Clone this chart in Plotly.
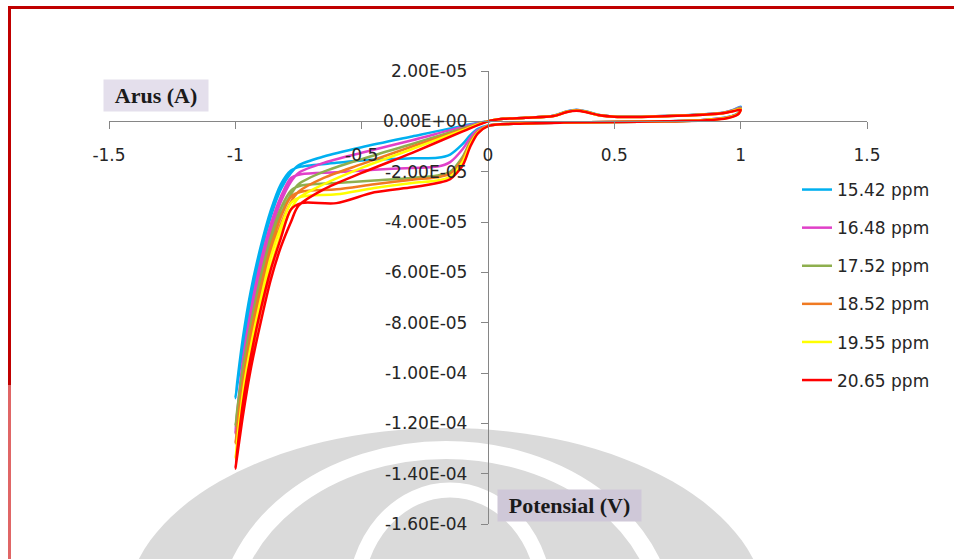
import plotly.graph_objects as go

# ---------------- data (current in microampere, potential in volt) ----------------
series_labels = ["15.42 ppm", "16.48 ppm", "17.52 ppm", "18.52 ppm", "19.55 ppm", "20.65 ppm"]
series_colors = ["#00B0F0", "#E040C8", "#8EAF4E", "#F07A22", "#FFFF00", "#FF0000"]

# forward sweep 0 -> -0.75 V
v_fwd = [0.0, -0.1, -0.3, -0.5, -0.65, -0.75]
i_fwd = [
    [0, -1.8, -6.0, -10.3, -14.0, -17.5],
    [0, -2.2, -7.5, -12.5, -16.5, -20.5],
    [0, -2.8, -9.0, -15.0, -20.0, -25.0],
    [0, -3.2, -10.0, -17.0, -22.5, -28.0],
    [0, -3.5, -11.0, -18.5, -25.0, -30.5],
    [0, -4.0, -12.5, -20.5, -27.0, -33.5],
]

# steep cathodic part -0.78 -> -1.0 V
v_steep = [-0.78, -0.82, -0.86, -0.90, -0.94, -0.97, -1.0]
i_steep = [
    [-20.5, -27, -38, -53, -72, -90, -110],
    [-24, -32, -44, -60, -80, -100, -124],
    [-29, -37, -49, -66, -86, -103, -121],
    [-32, -41, -53, -70, -90, -108, -128],
    [-35, -45, -58, -75, -95, -113, -134],
    [-40, -50, -63, -80, -99, -117, -138],
]

# return of the steep part -0.97 -> -0.78 V
v_ret = [-0.97, -0.94, -0.90, -0.86, -0.82, -0.78]
i_ret = [
    [-86, -68, -50, -35.5, -25, -19.5],
    [-95, -76, -56, -41, -30, -22.5],
    [-98, -81, -62, -46, -34.5, -27.5],
    [-103, -85, -66, -50, -38, -30],
    [-108, -90, -71, -54, -42, -32.5],
    [-112, -94, -75, -59, -46.5, -35],
]

# return plateau -0.74 -> 0 V
v_plat = [-0.74, -0.6, -0.45, -0.3, -0.2, -0.15, -0.1, -0.07, -0.04, 0.0]
i_plat = [
    [-18.0, -16.5, -15.2, -14.7, -14.5, -13.2, -9.0, -5.5, -3.0, -1.6],
    [-21.0, -20.2, -19.2, -18.5, -18.0, -16.2, -11.0, -6.5, -3.5, -1.7],
    [-25.5, -24.5, -23.5, -22.5, -21.5, -20.0, -14.0, -8.0, -4.0, -1.8],
    [-28.0, -27.0, -25.0, -23.2, -22.2, -20.8, -15.0, -8.5, -4.2, -1.8],
    [-30.0, -29.0, -26.5, -24.5, -23.5, -22.0, -16.0, -9.0, -4.5, -1.8],
    [-32.5, -32.5, -28.2, -26.2, -24.5, -23.0, -17.5, -10.0, -4.8, -1.9],
]

# anodic lower branch 0.1 -> 1.0 V
v_pos_low = [0.1, 0.3, 0.5, 0.7, 0.85, 0.95, 0.99, 1.0]
i_pos_low = [
    [-1.0, -0.5, -0.3, 0.0, 0.5, 1.7, 3.4, 5.8],
    [-1.0, -0.5, -0.3, 0.0, 0.5, 1.6, 3.2, 5.5],
    [-1.0, -0.5, -0.3, 0.0, 0.4, 1.5, 3.1, 5.3],
    [-1.0, -0.5, -0.3, 0.0, 0.4, 1.5, 3.0, 5.0],
    [-1.0, -0.5, -0.3, 0.0, 0.4, 1.4, 2.9, 4.8],
    [-1.0, -0.5, -0.3, 0.0, 0.3, 1.3, 2.8, 4.6],
]

# anodic upper branch 0.97 -> 0 V (peak near 0.35 V)
v_pos_up = [0.97, 0.93, 0.85, 0.7, 0.59, 0.5, 0.44, 0.39, 0.35, 0.31, 0.26, 0.15, 0.06, 0.0]
i_pos_up = [
    [4.5, 3.4, 2.8, 2.1, 1.8, 1.9, 2.5, 3.9, 4.6, 3.9, 2.2, 1.4, 1.0, 0.0],
    [4.4, 3.4, 2.7, 2.1, 1.8, 1.9, 2.5, 3.8, 4.5, 3.8, 2.2, 1.4, 1.0, 0.0],
    [4.3, 3.3, 2.7, 2.1, 1.8, 1.9, 2.5, 3.8, 4.4, 3.8, 2.2, 1.4, 1.0, 0.0],
    [4.2, 3.3, 2.7, 2.0, 1.7, 1.8, 2.4, 3.7, 4.3, 3.7, 2.1, 1.4, 1.0, 0.0],
    [4.1, 3.2, 2.6, 2.0, 1.7, 1.8, 2.4, 3.7, 4.3, 3.7, 2.1, 1.4, 1.0, 0.0],
    [4.0, 3.2, 2.6, 2.0, 1.7, 1.8, 2.4, 3.6, 4.2, 3.6, 2.1, 1.4, 1.0, 0.0],
]

x_tickvals = [-1.5, -1, -0.5, 0, 0.5, 1, 1.5]
x_ticktext = ["-1.5", "-1", "-0.5", "0", "0.5", "1", "1.5"]
y_tickvals = [2e-5, 0, -2e-5, -4e-5, -6e-5, -8e-5, -1e-4, -1.2e-4, -1.4e-4, -1.6e-4]
y_ticktext = ["2.00E-05", "0.00E+00", "-2.00E-05", "-4.00E-05", "-6.00E-05", "-8.00E-05",
              "-1.00E-04", "-1.20E-04", "-1.40E-04", "-1.60E-04"]

# ---------------- layout helpers (pixel -> paper) ----------------
W, H = 954, 559
ML, MR, MT, MB = 109, 87, 71, 35
PW, PH = W - ML - MR, H - MT - MB


def px(x):
    return (x - ML) / PW


def py(y):
    return (H - MB - y) / PH


def ellipse(cx, cy, rx, ry, **kw):
    return dict(type="circle", xref="paper", yref="paper",
                x0=px(cx - rx), x1=px(cx + rx), y0=py(cy + ry), y1=py(cy - ry),
                layer="below", **kw)


fig = go.Figure()
UA = 1e-6
for k, lab in enumerate(series_labels):
    xs = v_fwd + v_steep + v_ret + v_plat + v_pos_low + v_pos_up
    ys = i_fwd[k] + i_steep[k] + i_ret[k] + i_plat[k] + i_pos_low[k] + i_pos_up[k]
    ys = [v * UA for v in ys]
    fig.add_trace(go.Scatter(
        x=xs, y=ys, mode="lines", name=lab, legendgroup=lab,
        line=dict(color=series_colors[k], width=2.5, shape="spline", smoothing=0.8),
        hoverinfo="skip",
    ))

tick_font = dict(family="DejaVu Sans", size=17, color="#262626")
axis_col = "#868686"
wm_gray = "#DADADA"

shapes = [
    # faint watermark in the background
    ellipse(446, 610, 320, 182, fillcolor=wm_gray, line=dict(width=0)),
    ellipse(446, 625, 220, 175, fillcolor="rgba(0,0,0,0)", line=dict(color="white", width=18)),
    ellipse(450, 600, 95, 110, fillcolor="rgba(0,0,0,0)", line=dict(color="white", width=15)),
    # page frame
    dict(type="line", xref="paper", yref="paper", x0=px(9), x1=px(954), y0=py(7.5), y1=py(7.5),
         line=dict(color="#C00000", width=3), layer="above"),
    dict(type="line", xref="paper", yref="paper", x0=px(9.5), x1=px(9.5), y0=py(6), y1=py(385),
         line=dict(color="#C00000", width=3), layer="above"),
    dict(type="line", xref="paper", yref="paper", x0=px(9.5), x1=px(9.5), y0=py(385), y1=py(565),
         line=dict(color="#E06666", width=3), layer="above"),
]

fig.update_layout(
    width=W, height=H,
    margin=dict(l=ML, r=MR, t=MT, b=MB, autoexpand=False),
    paper_bgcolor="white", plot_bgcolor="rgba(0,0,0,0)",
    showlegend=True,
    legend=dict(x=px(797), y=py(172), xanchor="left", yanchor="top",
                font=dict(family="DejaVu Sans", size=17, color="#262626"),
                bgcolor="rgba(0,0,0,0)", tracegroupgap=13, itemwidth=30),
    xaxis=dict(range=[-1.5, 1.5], anchor="free", position=1.6e-4 / 1.8e-4,
               tickvals=x_tickvals, ticktext=x_ticktext, ticks="outside", ticklen=7,
               tickcolor=axis_col, showline=True, linecolor=axis_col, linewidth=1.3,
               showgrid=False, zeroline=False, tickfont=tick_font, ticklabelstandoff=11),
    yaxis=dict(range=[-1.6e-4, 2e-5], anchor="free", position=0.5,
               tickvals=y_tickvals, ticktext=y_ticktext, ticks="outside", ticklen=7,
               tickcolor=axis_col, showline=True, linecolor=axis_col, linewidth=1.3,
               showgrid=False, zeroline=False, tickfont=tick_font, ticklabelstandoff=10),
    annotations=[
        dict(text="<b>Arus (A)</b>", xref="paper", yref="paper", x=px(156), y=py(95.5),
             xanchor="center", yanchor="middle", showarrow=False, bgcolor="#E4DFEC",
             font=dict(family="Liberation Serif", size=22, color="#1a1a1a"),
             width=100, height=27, borderpad=2),
        dict(text="<b>Potensial (V)</b>", xref="paper", yref="paper", x=px(569.5), y=py(505.5),
             xanchor="center", yanchor="middle", showarrow=False, bgcolor="#CFC8D8",
             font=dict(family="Liberation Serif", size=22, color="#1a1a1a"),
             width=139, height=27, borderpad=2),
    ],
    shapes=shapes,
)

fig.write_html("out.html")
